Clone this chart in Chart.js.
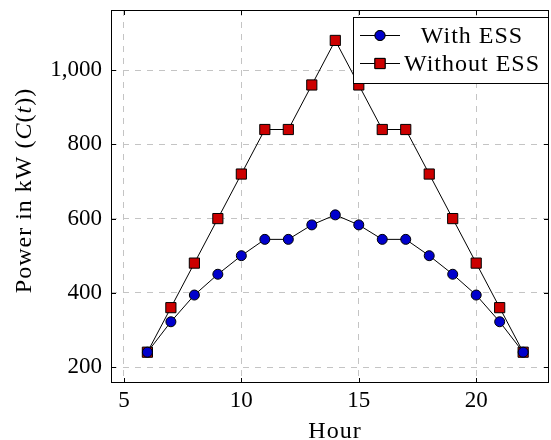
<!DOCTYPE html>
<html>
<head>
<meta charset="utf-8">
<script src="https://cdn.jsdelivr.net/npm/chart.js@4.4.0/dist/chart.umd.min.js"></script>
<style>
  html, body { margin: 0; padding: 0; background: #fff; }
  #wrap { width: 551px; height: 440px; }
</style>
</head>
<body>
<div id="wrap"><canvas id="powerChart"></canvas></div>
<script>
// data
const hours = [6, 7, 8, 9, 10, 11, 12, 13, 14, 15, 16, 17, 18, 19, 20, 21, 22];
const withEss = [240, 322, 394, 450, 500, 544, 544, 583, 610, 583, 544, 544, 500, 450, 394, 322, 240];
const withoutEss = [240, 360, 480, 600, 720, 840, 840, 960, 1080, 960, 840, 840, 720, 600, 480, 360, 240];
const xTicks = [5, 10, 15, 20];
const yTicks = [200, 400, 600, 800, 1000];
const xTitle = "Hour";
// y title pieces: [text, italic]
const yTitle = [["Power in kW (", false], ["C", true], ["(", false], ["t", true], ["))", false]];

const serif = "'Liberation Serif', 'DejaVu Serif', serif";
const fontSize = 23;

// frame + inward tick marks, like pgfplots
const framePlugin = {
  id: "frame",
  afterDatasetsDraw(chart) {
    const { ctx, chartArea: a, scales } = chart;
    ctx.save();
    ctx.strokeStyle = "#000";
    ctx.lineWidth = 1;
    ctx.strokeRect(a.left + 0.5, a.top + 0.5, a.right - a.left - 1, a.bottom - a.top - 1);
    ctx.beginPath();
    xTicks.forEach(v => {
      const x = Math.round(scales.x.getPixelForValue(v)) + 0.5;
      ctx.moveTo(x, a.bottom); ctx.lineTo(x, a.bottom - 5);
      ctx.moveTo(x, a.top); ctx.lineTo(x, a.top + 5);
    });
    yTicks.forEach(v => {
      const y = Math.round(scales.y.getPixelForValue(v)) + 0.5;
      ctx.moveTo(a.left, y); ctx.lineTo(a.left + 5, y);
      ctx.moveTo(a.right, y); ctx.lineTo(a.right - 5, y);
    });
    ctx.stroke();
    ctx.restore();
  }
};

// axis titles (y title has italic math letters)
const titlesPlugin = {
  id: "titles",
  afterDraw(chart) {
    const { ctx, chartArea: a } = chart;
    ctx.save();
    ctx.fillStyle = "#000";
    ctx.textBaseline = "alphabetic";
    ctx.letterSpacing = "1px";
    ctx.font = "24px " + serif;
    ctx.textAlign = "center";
    ctx.fillText(xTitle, (a.left + a.right) / 2 + 5, 438);

    const fontOf = it => (it ? "italic " : "") + "24px " + serif;
    let total = 0;
    yTitle.forEach(([t, it]) => { ctx.font = fontOf(it); total += ctx.measureText(t).width; });
    ctx.translate(31, (a.top + a.bottom) / 2 - 6);
    ctx.rotate(-Math.PI / 2);
    ctx.textAlign = "left";
    let x = -total / 2;
    yTitle.forEach(([t, it]) => {
      ctx.font = fontOf(it);
      ctx.fillText(t, x, 0);
      x += ctx.measureText(t).width;
    });
    ctx.restore();
  }
};

// legend box in the top right corner of the plot
const legendBox = {
  id: "legendBox",
  afterDraw(chart) {
    const { ctx, chartArea: a } = chart;
    const ds = chart.data.datasets;
    const w = 196, rowH = 28;
    const h = 66;
    const x0 = a.right - w, y0 = a.top + 7;
    ctx.save();
    ctx.fillStyle = "#fff";
    ctx.fillRect(x0, y0, w, h);
    ctx.strokeStyle = "#000";
    ctx.lineWidth = 1;
    ctx.strokeRect(x0 + 0.5, y0 + 0.5, w - 1, h);
    ds.forEach((d, i) => {
      const y = y0 + 18 + i * rowH;
      ctx.beginPath();
      ctx.moveTo(x0 + 7, y + 0.5); ctx.lineTo(x0 + 47, y + 0.5);
      ctx.strokeStyle = "#000";
      ctx.stroke();
      Chart.helpers.drawPoint(ctx, {
        pointStyle: d.pointStyle,
        radius: d.pointRadius,
        borderWidth: 1
      }, x0 + 27, y + 0.5);
      ctx.fillStyle = d.backgroundColor;
      ctx.strokeStyle = "#000";
      ctx.fill();
      ctx.stroke();
      ctx.fillStyle = "#000";
      ctx.letterSpacing = "1px";
      ctx.font = "24px " + serif;
      ctx.textAlign = "center";
      ctx.textBaseline = "alphabetic";
      ctx.fillText(d.label, x0 + 119, y + 8);
    });
    ctx.restore();
  }
};

const ctx = document.getElementById("powerChart").getContext("2d");
new Chart(ctx, {
  type: "line",
  data: {
    datasets: [{
      label: "With ESS",
      data: hours.map((h, i) => ({ x: h, y: withEss[i] })),
      borderColor: "#000",
      borderWidth: 1,
      backgroundColor: "#0000cc",
      pointBackgroundColor: "#0000cc",
      pointBorderColor: "#000",
      pointBorderWidth: 1,
      pointStyle: "circle",
      pointRadius: 5,
      tension: 0
    }, {
      label: "Without ESS",
      data: hours.map((h, i) => ({ x: h, y: withoutEss[i] })),
      borderColor: "#000",
      borderWidth: 1,
      backgroundColor: "#cc0000",
      pointBackgroundColor: "#cc0000",
      pointBorderColor: "#000",
      pointBorderWidth: 1,
      pointStyle: "rect",
      pointRadius: 7.2,
      tension: 0
    }]
  },
  options: {
    responsive: true,
    maintainAspectRatio: false,
    animation: false,
    layout: { autoPadding: false, padding: { left: 0, right: 2, top: 10, bottom: 0 } },
    plugins: {
      legend: { display: false },
      tooltip: { enabled: false }
    },
    scales: {
      x: {
        type: "linear",
        min: 4.45,
        max: 23.1,
        afterBuildTicks: axis => { axis.ticks = xTicks.map(v => ({ value: v })); },
        afterFit: scale => {
          scale.height = 57;
          scale.paddingLeft = 0; scale.paddingRight = 0;
          scale.paddingTop = 0; scale.paddingBottom = 0;
        },
        grid: { color: "#c4c4c4", drawTicks: false },
        border: { display: false, dash: [6, 6] },
        ticks: {
          color: "#000",
          padding: 4,
          font: { family: serif, size: fontSize },
          maxRotation: 0
        }
      },
      y: {
        min: 157,
        max: 1162,
        afterBuildTicks: axis => { axis.ticks = yTicks.map(v => ({ value: v })); },
        afterFit: scale => {
          scale.width = 111;
          scale.paddingLeft = 0; scale.paddingRight = 0;
          scale.paddingTop = 0; scale.paddingBottom = 0;
        },
        grid: { color: "#c4c4c4", drawTicks: false },
        border: { display: false, dash: [6, 6] },
        ticks: {
          color: "#000",
          padding: 9,
          font: { family: serif, size: fontSize },
          callback: v => v.toLocaleString("en-US")
        }
      }
    }
  },
  plugins: [framePlugin, titlesPlugin, legendBox]
});
</script>
</body>
</html>
